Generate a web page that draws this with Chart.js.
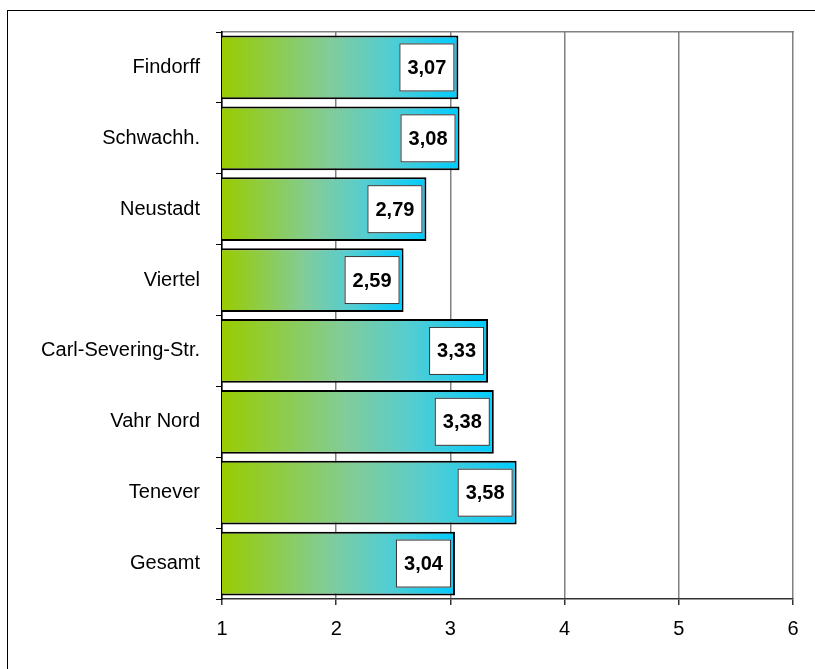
<!DOCTYPE html>
<html>
<head>
<meta charset="utf-8">
<script src="https://cdn.jsdelivr.net/npm/chart.js@4.4.1/dist/chart.umd.min.js"></script>
<style>
  html, body { margin: 0; padding: 0; background: #fff; width: 815px; height: 669px; overflow: hidden; }
  #frame { position: absolute; left: 7px; top: 10px; width: 900px; height: 800px; border: 1px solid #000; box-sizing: border-box; }
  #wrap { position: absolute; left: 0; top: 0; width: 815px; height: 669px; }
</style>
</head>
<body>
<div id="frame"></div>
<div id="wrap"><canvas id="c" width="815" height="669"></canvas></div>
<script>
const categories = ["Findorff", "Schwachh.", "Neustadt", "Viertel", "Carl-Severing-Str.", "Vahr Nord", "Tenever", "Gesamt"];
const values = [3.07, 3.08, 2.79, 2.59, 3.33, 3.38, 3.58, 3.04];
const xTicks = [1, 2, 3, 4, 5, 6];

const FONT = "'Liberation Sans', Arial, sans-serif";

function gradientFill(c) {
  const chart = c.chart;
  const { ctx, chartArea, scales } = chart;
  if (!chartArea || !scales.x || c.raw === undefined) return '#99cc00';
  const x0 = scales.x.getPixelForValue(xTicks[0]);
  const x1 = scales.x.getPixelForValue(c.raw);
  const g = ctx.createLinearGradient(x0, 0, x1, 0);
  g.addColorStop(0, '#99cc00');
  g.addColorStop(0.45, '#82cc98');
  g.addColorStop(0.7, '#55cdd0');
  g.addColorStop(1, '#00ccff');
  return g;
}

const valueBoxes = {
  id: 'valueBoxes',
  afterDatasetsDraw(chart) {
    const ctx = chart.ctx;
    const meta = chart.getDatasetMeta(0);
    ctx.save();
    meta.data.forEach((el, i) => {
      const w = 55, h = 48;
      const right = el.x - 4;
      const left = right - w;
      const top = el.y - h / 2;
      ctx.fillStyle = '#ffffff';
      ctx.fillRect(left, top, w, h);
      ctx.strokeStyle = '#333333';
      ctx.lineWidth = 1;
      ctx.strokeRect(left + 0.5, top + 0.5, w - 1, h - 1);
      ctx.fillStyle = '#000000';
      ctx.font = 'bold 20px ' + FONT;
      ctx.textAlign = 'center';
      ctx.textBaseline = 'middle';
      ctx.fillText(values[i].toFixed(2).replace('.', ','), left + w / 2, el.y + 1);
    });
    ctx.restore();
  }
};

new Chart(document.getElementById('c'), {
  type: 'bar',
  data: {
    labels: categories,
    datasets: [{
      data: values,
      backgroundColor: gradientFill,
      borderColor: '#000000',
      borderWidth: 2,
      borderSkipped: false,
      barPercentage: 0.9,
      categoryPercentage: 1.0
    }]
  },
  options: {
    indexAxis: 'y',
    responsive: false,
    animation: false,
    events: [],
    layout: { padding: { left: 0, top: 32, right: 22, bottom: 20 } },
    plugins: { legend: { display: false }, tooltip: { enabled: false }, title: { display: false } },
    scales: {
      x: {
        type: 'linear',
        position: 'bottom',
        min: 1,
        max: 6,
        afterBuildTicks(s) { s.ticks = xTicks.map(v => ({ value: v })); },
        afterFit(s) { s.height = 669 - 599 - 20; },
        ticks: { color: '#000', font: { family: FONT, size: 20 }, padding: 12 },
        grid: { color: '#808080', lineWidth: 1.5, tickColor: '#333', tickLength: 6, drawOnChartArea: true },
        border: { color: '#333', width: 1.5 }
      },
      x2: {
        type: 'linear',
        axis: 'x',
        position: 'top',
        min: 1,
        max: 6,
        afterFit(s) { s.height = 0; },
        ticks: { display: false },
        grid: { drawOnChartArea: false, drawTicks: false },
        border: { color: '#808080', width: 1.5 }
      },
      y: {
        type: 'category',
        afterFit(s) { s.width = 222; },
        ticks: { color: '#000', font: { family: FONT, size: 20 }, padding: 16 },
        grid: { offset: true, drawOnChartArea: false, tickColor: '#000', tickLength: 6 },
        border: { color: '#000', width: 1.5 }
      }
    }
  },
  plugins: [valueBoxes]
});
</script>
</body>
</html>
